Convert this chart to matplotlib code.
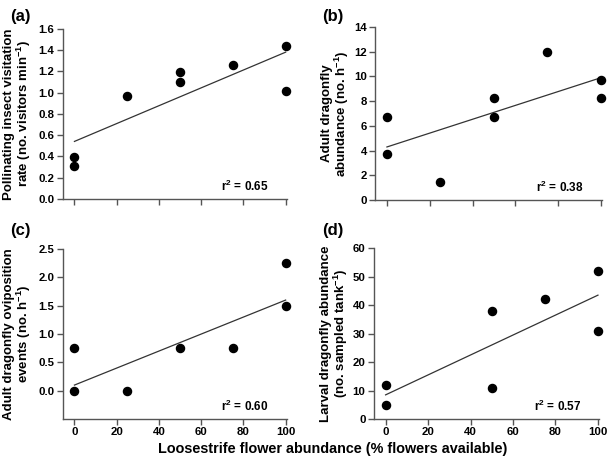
import matplotlib
matplotlib.use("Agg")
import matplotlib.pyplot as plt

plt.rcParams['font.family'] = ['Liberation Sans', 'DejaVu Sans']
plt.rcParams['font.weight'] = 'bold'
plt.rcParams['mathtext.fontset'] = 'custom'
plt.rcParams['mathtext.rm'] = 'Liberation Sans:bold'
plt.rcParams['mathtext.bf'] = 'Liberation Sans:bold'
plt.rcParams['mathtext.default'] = 'bf'

# flower availability (%)
x_a = [0, 0, 25, 50, 50, 75, 100, 100]
y_a = [0.39, 0.31, 0.97, 1.19, 1.10, 1.26, 1.44, 1.01]
x_b = [0, 0, 25, 50, 50, 75, 100, 100]
y_b = [6.75, 3.75, 1.5, 8.25, 6.75, 12.0, 9.75, 8.25]
x_c = [0, 0, 25, 50, 75, 100, 100]
y_c = [0.75, 0.0, 0.0, 0.75, 0.75, 2.25, 1.5]
x_d = [0, 0, 50, 50, 75, 100, 100]
y_d = [12, 5, 38, 11, 42, 52, 31]

# fitted line ends at 0 and 100 %
fit_x = [0, 100]
fit_a = [0.54, 1.38]
fit_b = [4.3, 9.9]
fit_c = [0.1, 1.6]
fit_d = [8.5, 43.5]

r2 = ["0.65", "0.38", "0.60", "0.57"]
labels = ["(a)", "(b)", "(c)", "(d)"]
ylabels = ["Pollinating insect visitation\nrate (no. visitors min$^{-1}$)",
           "Adult dragonfly\nabundance (no. h$^{-1}$)",
           "Adult dragonfly oviposition\nevents (no. h$^{-1}$)",
           "Larval dragonfly abundance\n(no. sampled tank$^{-1}$)"]

fig = plt.figure(figsize=(6.1, 4.57), dpi=100)

# axes boxes in figure fractions
boxes = [[0.103, 0.565, 0.367, 0.372],
         [0.615, 0.562, 0.372, 0.379],
         [0.103, 0.083, 0.367, 0.372],
         [0.613, 0.083, 0.369, 0.374]]
ylims = [(0, 1.6), (0, 14), (-0.5, 2.5), (0, 60)]
yticks = [[0, 0.2, 0.4, 0.6, 0.8, 1.0, 1.2, 1.4, 1.6],
          [0, 2, 4, 6, 8, 10, 12, 14],
          [0, 0.5, 1.0, 1.5, 2.0, 2.5],
          [0, 10, 20, 30, 40, 50, 60]]
yfmt = ["{:.1f}", "{:.0f}", "{:.1f}", "{:.0f}"]
xs = [x_a, x_b, x_c, x_d]
ys = [y_a, y_b, y_c, y_d]
fits = [fit_a, fit_b, fit_c, fit_d]
xticks = [0, 20, 40, 60, 80, 100]
# x position of the y label's right edge, axes fraction
ylab_x = [-0.132, -0.105, -0.132, -0.107]

for i in range(4):
    ax = fig.add_axes(boxes[i])
    ax.scatter(xs[i], ys[i], s=34, color="black", zorder=3, clip_on=False)
    ax.plot(fit_x, fits[i], color="#333333", lw=0.9)
    ax.set_xlim(-5.5, 100.5)
    ax.set_ylim(*ylims[i])
    ax.set_xticks(xticks)
    ax.set_yticks(yticks[i])
    ax.set_yticklabels([yfmt[i].format(v) for v in yticks[i]])
    if i < 2:
        ax.set_xticklabels([])
    for s in ["top", "right"]:
        ax.spines[s].set_visible(False)
    for s in ["left", "bottom"]:
        ax.spines[s].set_color("#555555")
        ax.spines[s].set_linewidth(1.0)
    ax.tick_params(direction="out", length=4, width=1, color="#555555",
                   labelsize=8.2, pad=2)
    ax.set_ylabel(ylabels[i], fontsize=9.5, fontweight="bold",
                  linespacing=1.0)
    ax.yaxis.set_label_coords(ylab_x[i], 0.5)
    ax.text(0.92, 0.03, "r$^2$ = " + r2[i], transform=ax.transAxes,
            ha="right", va="bottom", fontsize=8.5, fontweight="bold")

fig.text(0.016, 0.98, labels[0], fontsize=12, fontweight="bold", va="top")
fig.text(0.528, 0.98, labels[1], fontsize=12, fontweight="bold", va="top")
fig.text(0.016, 0.512, labels[2], fontsize=12, fontweight="bold", va="top")
fig.text(0.528, 0.512, labels[3], fontsize=12, fontweight="bold", va="top")

fig.text(0.546, 0.018, "Loosestrife flower abundance (% flowers available)",
         ha="center", va="center", fontsize=10.4, fontweight="bold")

fig.savefig("out.png", dpi=100)
